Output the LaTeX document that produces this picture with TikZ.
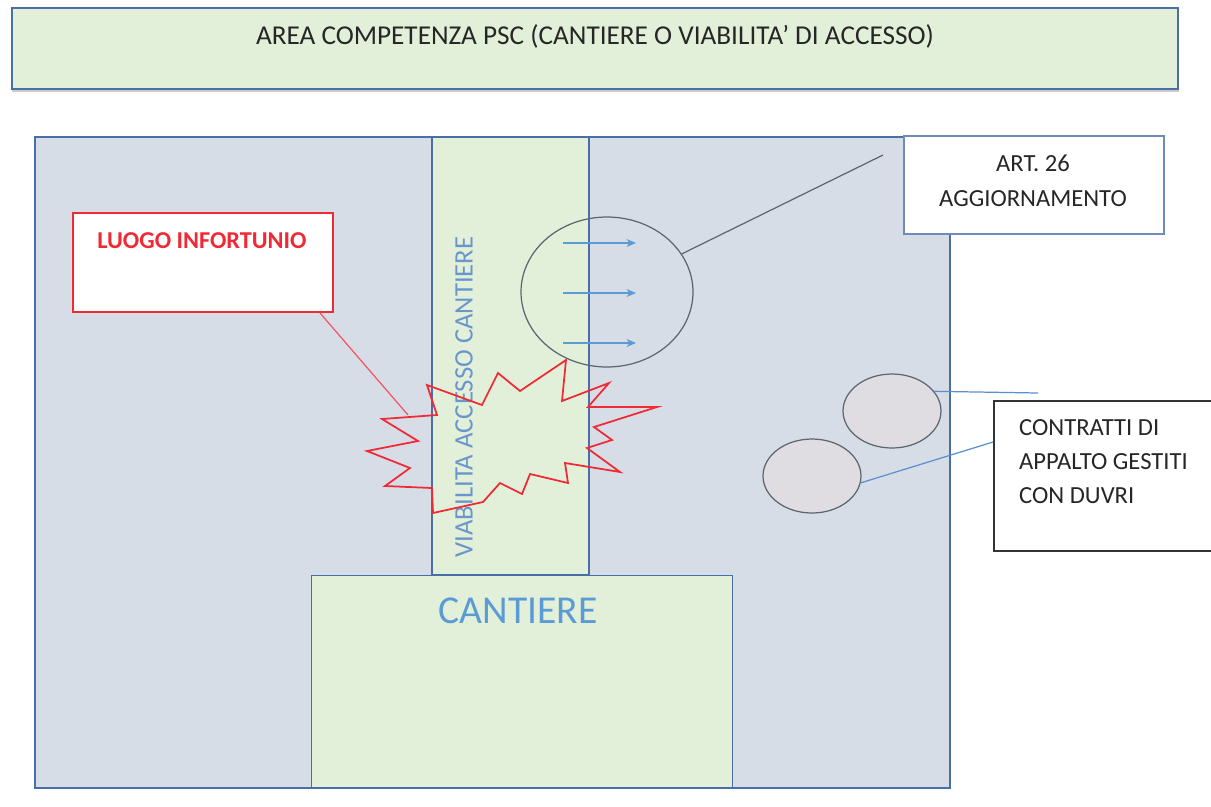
\documentclass[tikz,border=0pt]{standalone}
\usepackage{fontspec}
\setmainfont{Carlito}
\usetikzlibrary{shapes.geometric,arrows.meta}
\definecolor{areafill}{HTML}{D7DDE7}
\definecolor{greenfill}{HTML}{E2F0D9}
\definecolor{bordblue}{HTML}{4A6FA8}
\definecolor{textblue}{HTML}{5B9BD5}
\definecolor{viabblue}{HTML}{6A96CC}
\definecolor{burstred}{HTML}{F02A35}
\definecolor{ellgray}{HTML}{5C6670}
\definecolor{smallfill}{HTML}{DFDCE2}
\definecolor{linkblue}{HTML}{5B8FD0}
\begin{document}
\begin{tikzpicture}[x=0.02cm,y=-0.02cm,
  region/.style={draw=bordblue,line width=0.6pt},
  whitebox/.style={draw,fill=white,line width=0.7pt,inner sep=0pt},
  ovalshape/.style={ellipse,draw=ellgray,line width=0.7pt,inner sep=0pt},
  smalltext/.style={font=\fontsize{14}{17}\selectfont,text=black!85},
  flowarrow/.style={draw=textblue,line width=0.8pt,-{Stealth[length=1.9mm,width=1.6mm]}},
  leader/.style={line width=0.7pt}]
\useasboundingbox (0,0) rectangle (1211,806);
\fill[white] (0,0) rectangle (1211,806);

% top bar
\fill[black!20] (12,10) rectangle (1179,92);
\node[draw=bordblue,fill=greenfill,line width=0.8pt,minimum width=23.32cm,minimum height=1.62cm,inner sep=0pt] (topbar) at (595,48.5) {};
\node[font=\fontsize{15.5}{18}\selectfont,text=black!85] (toptext) at (595,36) {AREA COMPETENZA PSC (CANTIERE O VIABILITA’ DI ACCESSO)};

% main area
\path[region,fill=areafill] (35,137) rectangle (950,788);
% road
\path[region,fill=greenfill] (432,137) rectangle (589,575);
% cantiere
\node[region,fill=greenfill,minimum width=8.44cm,minimum height=4.26cm,inner sep=0pt] (cantiere) at (522,681.5) {};
\node[font=\fontsize{22.5}{26}\selectfont,text=textblue] (cantieretext) at (518,611) {CANTIERE};

% road label
\node[font=\fontsize{15.2}{18}\selectfont,text=viabblue,rotate=90] (viab) at (464,397) {VIABILITA ACCESSO CANTIERE};

% big ellipse with arrows
\node[ovalshape,minimum width=3.44cm,minimum height=3.0cm] (bigell) at (607,292) {};
\coordinate (a1s) at (563,243); \coordinate (a1e) at (636,243);
\coordinate (a2s) at (563,293); \coordinate (a2e) at (636,293);
\coordinate (a3s) at (563,343); \coordinate (a3e) at (636,343);
\draw[flowarrow] (a1s) -- (a1e);
\draw[flowarrow] (a2s) -- (a2e);
\draw[flowarrow] (a3s) -- (a3e);

% small ellipses
\node[ovalshape,fill=smallfill,minimum width=1.96cm,minimum height=1.48cm] (sellA) at (892,411) {};
\node[ovalshape,fill=smallfill,minimum width=1.96cm,minimum height=1.48cm] (sellB) at (812,476) {};

% ART 26 box
\node[whitebox,draw=bordblue!80,minimum width=5.2cm,minimum height=1.96cm] (art) at (1034,185) {};
\node[smalltext,anchor=base] (art1) at (1033,171) {ART. 26};
\node[smalltext,anchor=base] (art2) at (1033,206) {AGGIORNAMENTO};
\coordinate (artend) at (883,155);
\draw[leader,draw=ellgray] (bigell.27) -- (artend);

% CONTRATTI box
\node[whitebox,draw=black!80,line width=1pt,minimum width=4.6cm,minimum height=3.0cm,anchor=north west] (contr) at (993,400) {};
\node[smalltext,anchor=base west] (ct1) at (1013,435) {CONTRATTI DI};
\node[smalltext,anchor=base west] (ct2) at (1013,469) {APPALTO GESTITI};
\node[smalltext,anchor=base west] (ct3) at (1013,503) {CON DUVRI};
\coordinate (cend1) at (1038,393);
\coordinate (cend2) at (993,442);
\draw[leader,draw=linkblue] (sellA.25) -- (cend1);
\draw[leader,draw=linkblue] (sellB.-8) -- (cend2);

% LUOGO INFORTUNIO box
\node[whitebox,draw=burstred,line width=1pt,minimum width=5.2cm,minimum height=1.98cm] (luogo) at (203,262.5) {};
\node[font=\fontsize{13.8}{16}\bfseries\selectfont,text=burstred] (luogotext) at (202,241) {LUOGO INFORTUNIO};

% burst
\draw[burstred,line width=1pt,line join=miter]
  (427,385) -- (482,405) -- (498,373) -- (520,391) -- (566,360) -- (562,401)
  -- (609,383) -- (588,407) -- (657,407) -- (594,427) -- (612,440) -- (587,448)
  -- (620,472) -- (565,463) -- (568,483) -- (530,474) -- (522,494) -- (500,483)
  -- (483,502) -- (433,513) -- (432,488) -- (385,486) -- (410,468) -- (367,451)
  -- (418,441) -- (382,419) -- (437,415) -- cycle;
\coordinate (l1) at (320,313);
\coordinate (l2) at (408,415);
\draw[burstred!80,line width=0.7pt] (l1) -- (l2);
\end{tikzpicture}
\end{document}
